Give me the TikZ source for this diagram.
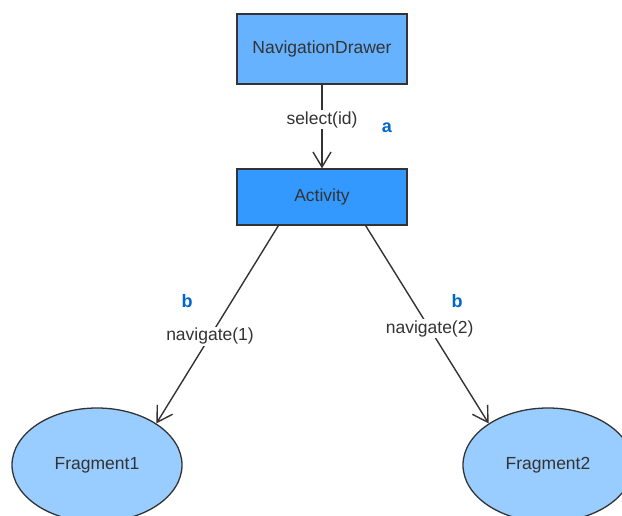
\documentclass[tikz,border=0pt]{standalone}
\usepackage{fontspec}
\setmainfont{Liberation Sans}
\usetikzlibrary{arrows.meta,shapes.geometric,calc}
\definecolor{ink}{HTML}{333333}
\definecolor{drawerfill}{HTML}{66B2FF}
\definecolor{activityfill}{HTML}{3399FF}
\definecolor{fragfill}{HTML}{99CCFF}
\definecolor{tagblue}{HTML}{0066CC}
\tikzset{
  boxnode/.style={draw=ink, line width=1.3pt, minimum width=170pt, inner sep=0pt,
    text=ink, font=\fontsize{17.5}{21}\selectfont},
  fragnode/.style={ellipse, draw=ink, line width=1.3pt, fill=fragfill,
    minimum width=170pt, minimum height=114pt, inner sep=0pt,
    text=ink, font=\fontsize{17.5}{21}\selectfont},
  flow/.style={draw=ink, line width=1.4pt,
    -{Straight Barb[length=15pt,width=18pt,line width=1.4pt]}},
  edgelabel/.style={fill=white, inner sep=1.5pt, text=ink,
    font=\fontsize{17.5}{21}\selectfont},
  tag/.style={text=tagblue, font=\fontsize{18}{21}\selectfont\bfseries}
}
\begin{document}
\begin{tikzpicture}[x=1pt,y=-1pt]
  \useasboundingbox (0,0) rectangle (622,516);

  % boxes
  \node[boxnode, fill=drawerfill, minimum height=70pt] (drawer) at (322,49) {NavigationDrawer};
  \node[boxnode, fill=activityfill, minimum height=56pt] (act) at (322,197) {Activity};

  % fragments (the bottom of each ellipse runs past the lower edge)
  \begin{scope}
    \clip (0,0) rectangle (622,516);
    \node[fragnode] (f1) at (97,465) {Fragment1};
    \node[fragnode] (f2) at (548,465) {Fragment2};
  \end{scope}

  % connectors
  \draw[flow] (drawer.south) -- (act.north)
    node[edgelabel, pos=0.42] (selectlbl) {select(id)};
  \draw[flow] ($(act.south west)+(42,0)$) -- (f1.35)
    node[edgelabel, pos=0.56] (nav1lbl) {navigate(1)};
  \draw[flow] ($(act.south east)+(-42,0)$) -- (f2.145)
    node[edgelabel, pos=0.52] (nav2lbl) {navigate(2)};

  % step tags
  \node[tag] (taga) at (387,128) {a};
  \node[tag] (tagb1) at (187,301) {b};
  \node[tag] (tagb2) at (457,301) {b};
\end{tikzpicture}
\end{document}
